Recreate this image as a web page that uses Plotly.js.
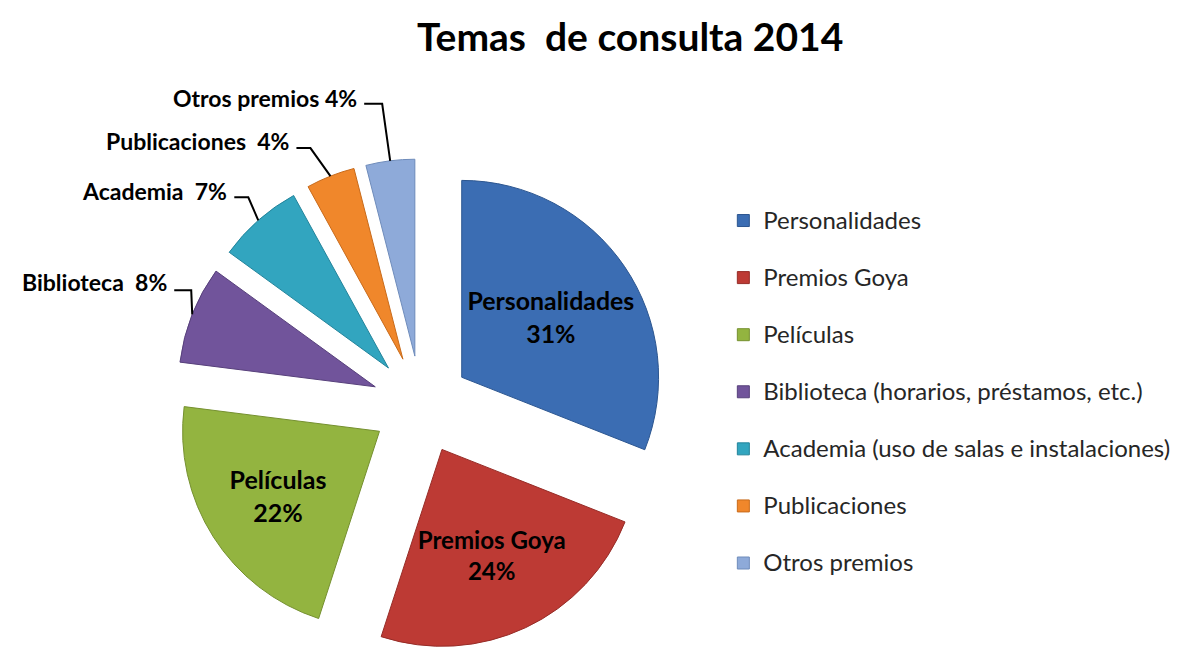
<!DOCTYPE html>
<html>
<head>
<meta charset="utf-8">
<script src="https://cdn.plot.ly/plotly-3.0.1.min.js"></script>
<style>html,body{margin:0;padding:0;background:#fff;overflow:hidden}#chart{width:1180px;height:651px}</style>
</head>
<body>
<div id="chart"></div>
<script>
// ---- data ----
const categories = ['Personalidades', 'Premios Goya', 'Películas', 'Biblioteca (horarios, préstamos, etc.)', 'Academia (uso de salas e instalaciones)', 'Publicaciones', 'Otros premios'];
const shortNames = ['Personalidades', 'Premios Goya', 'Películas', 'Biblioteca', 'Academia', 'Publicaciones', 'Otros premios'];
const values = [31, 24, 22, 8, 7, 4, 4];
const outsideSep = ['', '', '', '\u00a0 ', '\u00a0 ', '\u00a0 ', ' '];
const colors = ['#3b6db3', '#bd3a34', '#93b440', '#71549b', '#32a5bf', '#f0872b', '#8eaad9'];
const edgeColors = ['#2c5690', '#962c27', '#75902f', '#57407b', '#23849b', '#c86a1a', '#6f8cbb'];

// ---- layout constants ----
const W = 1180, H = 651;
const PULL = 0.25;
const domX = [0.1482, 0.5654];
const domY = [0.0, 0.756];
const insideMask = [true, true, true, false, false, false, false];
// label offsets (pixels) relative to slice outer point: [text right end dx, text mid dy, elbow dx, elbow dy]
const labelOffsets = [null, null, null, [-23, -32, -1, -24], [-29, -29, -10, -23], [-39, -35, -20, -28], [-31, -63, -8, -57]];

const font = 'Lato, "Open Sans", sans-serif';

const trace = {
  type: 'pie',
  labels: categories.map(c => '<span style="font-size:24px">' + c + '</span><br>\u00a0'),
  values: values,
  customdata: shortNames,
  sort: false,
  direction: 'clockwise',
  rotation: 0,
  pull: values.map(() => PULL),
  domain: {x: domX, y: domY},
  marker: {colors: colors, line: {color: edgeColors, width: 1}},
  textposition: insideMask.map(m => m ? 'inside' : 'none'),
  texttemplate: '%{customdata}<br>%{value}%',
  insidetextorientation: 'horizontal',
  textfont: {family: font, size: 25, color: '#000', weight: 'bold'},
  hoverinfo: 'percent',
  showlegend: true
};

// geometry of the pie as Plotly computes it
const boxW = (domX[1] - domX[0]) * W, boxH = (domY[1] - domY[0]) * H;
const R = Math.min(boxW, boxH) / (2 + 2 * PULL);
const CX = (domX[0] + domX[1]) / 2 * W;
const CY = (1 - (domY[0] + domY[1]) / 2) * H;
const total = values.reduce((a, b) => a + b, 0);

const annotations = [];
const shapes = [];
let cum = 0;
values.forEach((v, i) => {
  const mid = (cum + v / 2) / total * 2 * Math.PI;
  cum += v;
  if (insideMask[i]) return;
  const dx = Math.sin(mid), dy = -Math.cos(mid);
  const tx = CX + dx * R * (1 + PULL), ty = CY + dy * R * (1 + PULL);
  const o = labelOffsets[i];
  const lx = tx + o[0], ly = ty + o[1];
  const ex = tx + o[2], ey = ty + o[3];
  const px = x => x / W, py = y => 1 - y / H;
  annotations.push({
    xref: 'paper', yref: 'paper', x: px(lx), y: py(ly), xanchor: 'right', yanchor: 'middle',
    text: shortNames[i] + outsideSep[i] + v + '%', showarrow: false,
    font: {family: font, size: 23, color: '#000', weight: 'bold'}
  });
  shapes.push({
    type: 'path', xref: 'paper', yref: 'paper',
    path: `M${px(lx + 5)},${py(ey)} L${px(ex)},${py(ey)} L${px(tx)},${py(ty)}`,
    line: {color: '#000', width: 2}
  });
});

const layout = {
  width: W, height: H,
  margin: {l: 0, r: 0, t: 0, b: 0},
  paper_bgcolor: '#fff',
  title: {text: 'Temas\u00a0 de consulta 2014', x: 0.534, xanchor: 'center', y: 0.943, yanchor: 'middle', xref: 'paper', yref: 'container',
          font: {family: font, size: 39, color: '#000', weight: 'bold'}},
  legend: {x: 0.613, xanchor: 'left', y: 0.692, yanchor: 'top', valign: 'top',
           font: {family: font, size: 20.8, color: '#262626'}, bgcolor: 'rgba(0,0,0,0)'},
  annotations: annotations,
  shapes: shapes
};

Plotly.newPlot('chart', [trace], layout, {displayModeBar: false, responsive: false});
</script>
</body>
</html>
